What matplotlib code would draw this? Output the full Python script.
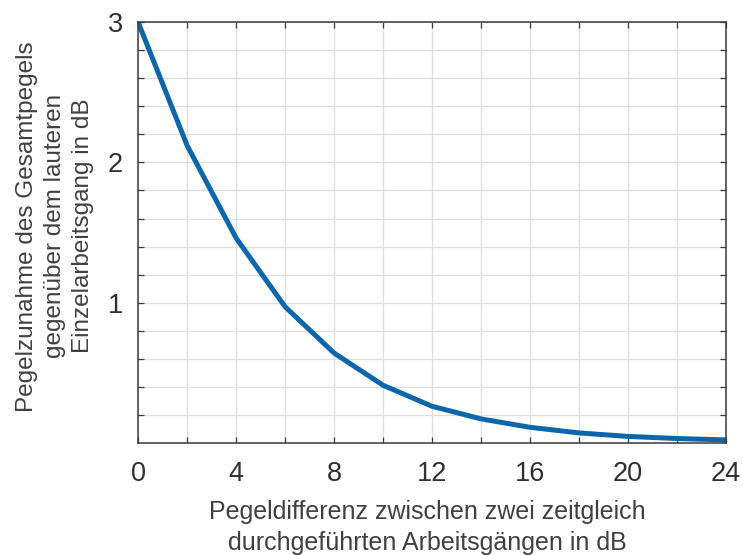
import matplotlib
matplotlib.use('Agg')
import matplotlib.pyplot as plt
import numpy as np

plt.rcParams['font.family'] = ['Liberation Sans', 'DejaVu Sans']

# Pegeldifferenz (dB) vs. Pegelzunahme (dB)
pegeldiff = [0, 2, 4, 6, 8, 10, 12, 14, 16, 18, 20, 22, 24]
zunahme = [3.0, 2.12, 1.46, 0.97, 0.64, 0.41, 0.26, 0.17, 0.11, 0.07, 0.045, 0.03, 0.02]

xticks_major = [0, 4, 8, 12, 16, 20, 24]
yticks_major = [1, 2, 3]

fig = plt.figure(figsize=[7.43, 5.55], dpi=100)
ax = fig.add_axes([0.186, 0.2023, 0.791, 0.7575])

ax.plot(pegeldiff, zunahme, '-', color='#0d66aa', lw=3.6, solid_joinstyle='round')

ax.set_xlim(0, 24)
ax.set_ylim(0, 3)
ax.set_xticks(xticks_major)
ax.set_xticks(np.arange(2, 24, 4), minor=True)
ax.set_yticks(yticks_major)
ax.set_yticks([v for v in np.arange(0.2, 3.0, 0.2) if abs(v - round(v)) > 1e-6], minor=True)

ax.grid(True, which='both', color='#dedede', lw=0.9)
ax.set_axisbelow(True)

for side in ax.spines.values():
    side.set_color('#3a3a3a')
    side.set_linewidth(1.1)

ax.tick_params(which='both', direction='in', top=True, right=True,
               color='#3a3a3a', width=0.9, length=4)
ax.tick_params(axis='x', labelsize=19.5, pad=13, labelcolor='#303030')
ax.tick_params(axis='y', labelsize=19.5, pad=11, labelcolor='#303030')

ax.set_xlabel('Pegeldifferenz zwischen zwei zeitgleich\ndurchgeführten Arbeitsgängen in dB',
              fontsize=18, color='#404040', linespacing=1.38, va='center', ha='center')
ax.xaxis.set_label_coords(0.4915, -0.2017)
ax.set_ylabel('Pegelzunahme des Gesamtpegels\ngegenüber dem lauteren\nEinzelarbeitsgang in dB',
              fontsize=17.5, color='#404040', linespacing=1.34, va='center', ha='center')
ax.yaxis.set_label_coords(-0.1418, 0.515)

fig.savefig('out.png', dpi=100)
